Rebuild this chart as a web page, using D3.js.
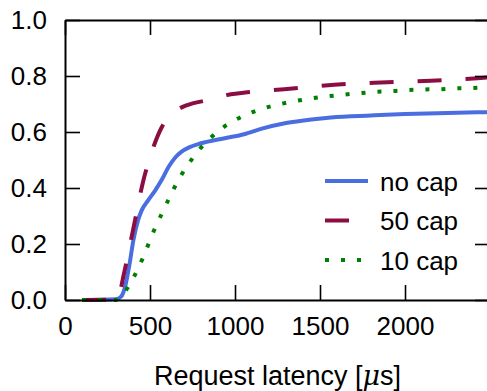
<!DOCTYPE html>
<html><head><meta charset="utf-8">
<script src="https://cdn.jsdelivr.net/npm/d3@7"></script>
<style>
html,body{margin:0;padding:0;background:#fff;overflow:hidden}
text{font-family:"Liberation Sans",Arial,Helvetica,sans-serif;fill:#000}
</style></head>
<body>
<svg id="c" width="487" height="391"></svg>
<script>
const seriesNames = ["no cap", "50 cap", "10 cap"];
const noCapX = [100, 300, 330, 353, 380, 402, 430, 451, 490, 529, 570, 608, 650, 686, 730, 784, 900, 1059, 1153, 1300, 1450, 1565, 1800, 2000, 2250, 2500];
const noCapY = [0, 0.003, 0.012, 0.046, 0.13, 0.213, 0.285, 0.32, 0.357, 0.39, 0.43, 0.474, 0.51, 0.53, 0.545, 0.557, 0.573, 0.593, 0.611, 0.632, 0.645, 0.652, 0.659, 0.664, 0.668, 0.671];
const cap50X = [100, 300, 320, 343, 380, 412, 440, 461, 490, 520, 569, 620, 686, 750, 824, 976, 1059, 1290, 1584, 1859, 2153, 2427, 2500];
const cap50Y = [0, 0.002, 0.02, 0.083, 0.19, 0.285, 0.37, 0.427, 0.49, 0.546, 0.617, 0.66, 0.688, 0.702, 0.712, 0.735, 0.741, 0.753, 0.769, 0.777, 0.783, 0.792, 0.795];
const cap10X = [100, 300, 314, 340, 372, 416, 455, 490, 524, 563, 602, 643, 686, 737, 794, 857, 929, 1008, 1094, 1182, 1275, 1369, 1461, 1553, 1649, 1741, 1835, 1929, 2025, 2118, 2212, 2306, 2400, 2500];
const cap10Y = [0, 0, 0.006, 0.02, 0.047, 0.095, 0.146, 0.198, 0.249, 0.3, 0.35, 0.401, 0.448, 0.495, 0.54, 0.579, 0.616, 0.645, 0.669, 0.687, 0.701, 0.712, 0.721, 0.728, 0.734, 0.739, 0.744, 0.746, 0.75, 0.752, 0.753, 0.756, 0.757, 0.76];
const xTicks = [0, 500, 1000, 1500, 2000];
const yTicks = [0, 0.2, 0.4, 0.6, 0.8, 1.0];
const xLabel = "Request latency [";
const xLabelMu = "μ";
const xLabelEnd = "s]";

const colors = ["#4a6ee0", "#8b0d42", "#008000"];
const dashes = [null, "24,24", "4,12"];

const svg = d3.select("#c");
const L = 65, R = 490, T = 20, B = 300;
const x = d3.scaleLinear().domain([0, 2500]).range([L, R]);
const y = d3.scaleLinear().domain([0, 1]).range([B, T]);
const FS = 26;

const series = [
  noCapX.map((v, i) => [v, noCapY[i]]),
  cap50X.map((v, i) => [v, cap50Y[i]]),
  cap10X.map((v, i) => [v, cap10Y[i]])
];

svg.append("defs").append("clipPath").attr("id", "clip")
  .append("rect").attr("x", L).attr("y", T - 2).attr("width", R - L).attr("height", B - T + 4);

const line = d3.line().x(d => x(d[0])).y(d => y(d[1])).curve(d3.curveMonotoneX);
const g = svg.append("g").attr("clip-path", "url(#clip)");
series.forEach((s, i) => {
  g.append("path").datum(s).attr("d", line)
    .attr("fill", "none").attr("stroke", colors[i]).attr("stroke-width", 4)
    .attr("stroke-dasharray", dashes[i]).attr("stroke-linecap", "butt").attr("stroke-linejoin", "round");
});

function styleAxis(sel) {
  sel.select(".domain").attr("stroke", "#000").attr("stroke-width", 2);
  sel.selectAll(".tick line").attr("stroke", "#000").attr("stroke-width", 1.6);
  sel.selectAll(".tick text").attr("font-size", FS).attr("font-family", "Liberation Sans, Arial, sans-serif").attr("fill", "#000");
}

svg.append("g").attr("transform", `translate(0,${B})`)
  .call(d3.axisBottom(x).tickValues(xTicks).tickSize(-15).tickSizeOuter(0).tickPadding(17).tickFormat(d3.format("d")))
  .call(styleAxis);
svg.append("g").attr("transform", `translate(0,${T})`)
  .call(d3.axisTop(x).tickValues(xTicks).tickSize(-15).tickSizeOuter(0).tickFormat(""))
  .call(styleAxis);
svg.append("g").attr("transform", `translate(${L},0)`)
  .call(d3.axisLeft(y).tickValues(yTicks).tickSize(-15).tickSizeOuter(0).tickPadding(18).tickFormat(d3.format(".1f")))
  .call(styleAxis);
svg.append("g").attr("transform", `translate(${R},0)`)
  .call(d3.axisRight(y).tickValues(yTicks).tickSize(-15).tickSizeOuter(0).tickFormat(""))
  .call(styleAxis);

// x axis label
const xl = svg.append("text").attr("x", (L + R) / 2).attr("y", 385)
  .attr("text-anchor", "middle").attr("font-size", FS + 1);
xl.append("tspan").text(xLabel);
xl.append("tspan").attr("font-style", "italic").attr("font-family", "DejaVu Serif, serif").text(xLabelMu);
xl.append("tspan").text(xLabelEnd);

// legend
const lg = svg.append("g");
seriesNames.forEach((n, i) => {
  const cy = 181 + i * 39.5;
  lg.append("line").attr("x1", 325).attr("x2", 368).attr("y1", cy).attr("y2", cy)
    .attr("stroke", colors[i]).attr("stroke-width", 4).attr("stroke-dasharray", dashes[i]);
  lg.append("text").attr("x", 380).attr("y", cy + 9.5).attr("font-size", FS).text(n);
});
</script>
</body></html>
